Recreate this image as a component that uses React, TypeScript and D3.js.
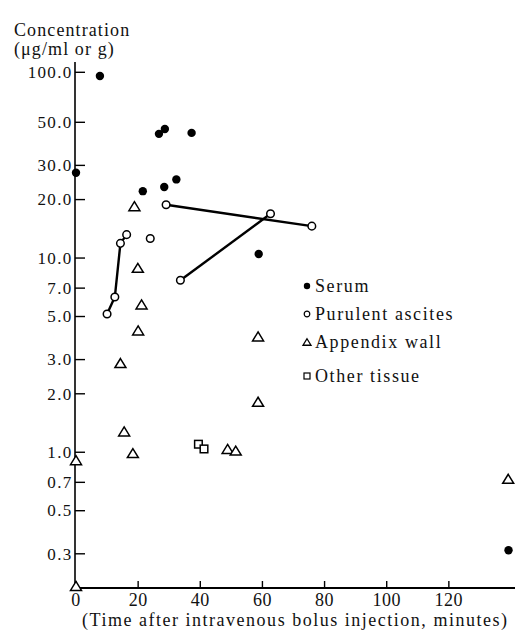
import React, { useEffect, useRef } from 'react';
import * as d3 from 'd3';

// values
const serumTime = [0, 7.7, 21.5, 26.7, 28.4, 28.6, 32.3, 37.2, 58.8, 139.2];
const serumConc = [27.5, 95, 22.1, 43.6, 23.2, 46.2, 25.4, 44.1, 10.5, 0.313];

const ascitesTime = [10, 12.5, 14.3, 16.3, 23.9, 29, 33.6, 62.6, 75.9];
const ascitesConc = [5.15, 6.3, 11.9, 13.2, 12.6, 18.8, 7.68, 16.9, 14.6];
// groups of ascites points joined by a line (same patient)
const ascitesLinks = [[0, 1, 2, 3], [5, 8], [6, 7]];

const wallTime = [18.8, 19.9, 21.1, 20, 58.6, 14.3, 58.6, 15.5, 18.3, 48.8, 51.4, 0, 0, 139.1];
const wallConc = [18.5, 8.9, 5.77, 4.24, 3.95, 2.88, 1.82, 1.28, 0.99, 1.04, 1.02, 0.91, 0.205, 0.73];

const tissueTime = [39.4, 41.2];
const tissueConc = [1.1, 1.04];

const yTicks = [100, 50, 30, 20, 10, 7, 5, 3, 2, 1, 0.7, 0.5, 0.3];
const yTickLabels = ['100.0', '50.0', '30.0', '20.0', '10.0', '7.0', '5.0', '3.0', '2.0', '1.0', '0.7', '0.5', '0.3'];
const xTicks = [0, 20, 40, 60, 80, 100, 120];

const legendLabels = ['Serum', 'Purulent ascites', 'Appendix wall', 'Other tissue'];

const W = 515;
const H = 631;
const FONT = '"Liberation Serif", "Times New Roman", serif';

const App = () => {
  const ref = useRef<SVGSVGElement>(null);

  useEffect(() => {
    const svg = d3.select(ref.current);
    svg.selectAll('*').remove();

    const x = d3.scaleLinear().domain([0, 140]).range([76, 511]);
    // the printed 100.0 tick sits a little low, so the top decade is squeezed
    const y = d3.scaleLog().domain([0.2, 50, 100]).range([588, 122.3, 72.3]);

    const txt = (sel: any, size: number, spacing: number) =>
      sel.attr('font-family', FONT).attr('font-size', size)
        .attr('letter-spacing', spacing).attr('fill', '#111');

    // axes
    svg.append('line')
      .attr('x1', 75).attr('x2', 75).attr('y1', 62).attr('y2', 588)
      .attr('stroke', '#000').attr('stroke-width', 1.6);
    svg.append('line')
      .attr('x1', 75).attr('x2', 515).attr('y1', 588).attr('y2', 588)
      .attr('stroke', '#000').attr('stroke-width', 1.8);

    const yt = svg.append('g').selectAll('g').data(yTicks).join('g')
      .attr('transform', d => `translate(0,${y(d)})`);
    yt.append('line').attr('x1', 75).attr('x2', 85)
      .attr('stroke', '#000').attr('stroke-width', 1.4);
    txt(yt.append('text'), 17, 1.3)
      .attr('x', 72.5).attr('dy', '0.34em')
      .attr('text-anchor', 'end')
      .text((d, i) => yTickLabels[i]);

    const xt = svg.append('g').selectAll('g').data(xTicks).join('g')
      .attr('transform', d => `translate(${x(d)},0)`);
    xt.append('line').attr('y1', 588).attr('y2', 581)
      .attr('stroke', '#000').attr('stroke-width', 1.4);
    txt(xt.append('text'), 18, 0.5)
      .attr('y', 606).attr('text-anchor', 'middle')
      .text(d => d);

    // axis titles
    txt(svg.append('text'), 18, 1.1).attr('x', 14).attr('y', 36)
      .text('Concentration');
    txt(svg.append('text'), 18, 1.1).attr('x', 14).attr('y', 55)
      .text('(μg/ml or g)');
    txt(svg.append('text'), 18, 0)
      .attr('x', 82).attr('y', 626)
      .attr('textLength', 425).attr('lengthAdjust', 'spacing')
      .text('(Time after intravenous bolus injection, minutes)');

    // ascites connecting lines
    const line = d3.line<number>()
      .x(i => x(ascitesTime[i]))
      .y(i => y(ascitesConc[i]));
    svg.append('g').selectAll('path').data(ascitesLinks).join('path')
      .attr('d', d => line(d))
      .attr('fill', 'none').attr('stroke', '#000').attr('stroke-width', 2.4);

    const tri = (w: number, h: number) =>
      `M0,${-h / 2}L${w / 2},${h / 2}L${-w / 2},${h / 2}Z`;

    // appendix wall
    svg.append('g').selectAll('path').data(wallTime).join('path')
      .attr('transform', (d, i) => `translate(${x(d)},${y(wallConc[i])})`)
      .attr('d', tri(11, 9))
      .attr('fill', '#fff').attr('stroke', '#000').attr('stroke-width', 1.5);

    // other tissue
    svg.append('g').selectAll('rect').data(tissueTime).join('rect')
      .attr('x', d => x(d) - 3.8)
      .attr('y', (d, i) => y(tissueConc[i]) - 3.8)
      .attr('width', 7.6).attr('height', 7.6)
      .attr('fill', '#fff').attr('stroke', '#000').attr('stroke-width', 1.5);

    // purulent ascites
    svg.append('g').selectAll('circle').data(ascitesTime).join('circle')
      .attr('cx', d => x(d))
      .attr('cy', (d, i) => y(ascitesConc[i]))
      .attr('r', 3.8)
      .attr('fill', '#fff').attr('stroke', '#000').attr('stroke-width', 1.5);

    // serum
    svg.append('g').selectAll('circle').data(serumTime).join('circle')
      .attr('cx', d => x(d))
      .attr('cy', (d, i) => y(serumConc[i]))
      .attr('r', 4.2)
      .attr('fill', '#000');

    // legend
    const lg = svg.append('g').selectAll('g').data(legendLabels).join('g')
      .attr('transform', (d, i) => `translate(307,${[286, 314, 342, 376][i]})`);
    txt(lg.append('text'), 18, 1.6)
      .attr('x', 8).attr('dy', '0.32em')
      .text(d => d);
    lg.filter((d, i) => i === 0).append('circle').attr('r', 3.2).attr('fill', '#000');
    lg.filter((d, i) => i === 1).append('circle').attr('r', 2.8)
      .attr('fill', '#fff').attr('stroke', '#000').attr('stroke-width', 1.2);
    lg.filter((d, i) => i === 2).append('path').attr('d', tri(8, 6.5))
      .attr('fill', '#fff').attr('stroke', '#000').attr('stroke-width', 1.3);
    lg.filter((d, i) => i === 3).append('rect')
      .attr('x', -3).attr('y', -3).attr('width', 6).attr('height', 6)
      .attr('fill', '#fff').attr('stroke', '#000').attr('stroke-width', 1.2);
  }, []);

  return (
    <svg
      ref={ref}
      width={W}
      height={H}
      style={{ position: 'absolute', left: 0, top: 0, background: '#fff' }}
    />
  );
};

export default App;
